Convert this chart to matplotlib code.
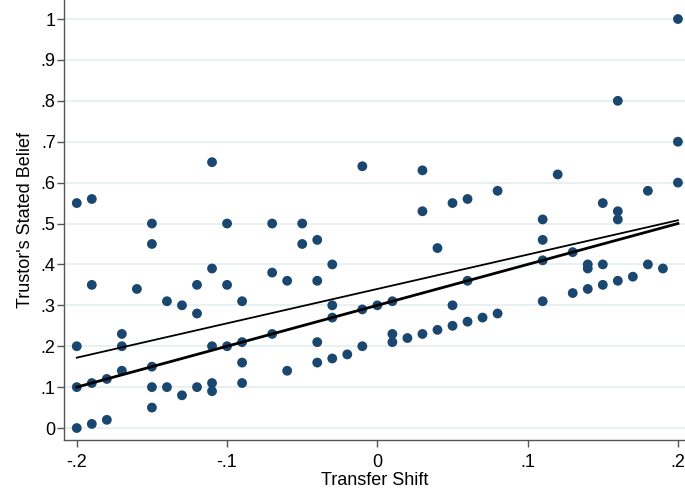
import numpy as np
import matplotlib
matplotlib.use("Agg")
import matplotlib.pyplot as plt

plt.rcParams['font.family'] = ['Liberation Sans', 'DejaVu Sans']

# Data: (transfer shift, list of stated beliefs)
shift_values = [-0.20, -0.19, -0.18, -0.17, -0.16, -0.15, -0.14, -0.13, -0.12, -0.11,
                -0.10, -0.09, -0.07, -0.06, -0.05, -0.04, -0.03, -0.02, -0.01, 0.00,
                0.01, 0.02, 0.03, 0.04, 0.05, 0.06, 0.07, 0.08, 0.11, 0.12,
                0.13, 0.14, 0.15, 0.16, 0.17, 0.18, 0.19, 0.20]
beliefs = [
    [0.55, 0.20, 0.10, 0.00],
    [0.56, 0.35, 0.11, 0.01],
    [0.12, 0.02],
    [0.23, 0.20, 0.14],
    [0.34],
    [0.50, 0.45, 0.15, 0.10, 0.05],
    [0.31, 0.10],
    [0.30, 0.08],
    [0.35, 0.28, 0.10],
    [0.65, 0.39, 0.20, 0.11, 0.09],
    [0.50, 0.35, 0.20],
    [0.31, 0.21, 0.16, 0.11],
    [0.50, 0.38, 0.23],
    [0.36, 0.14],
    [0.50, 0.45],
    [0.46, 0.36, 0.21, 0.16],
    [0.40, 0.30, 0.27, 0.17],
    [0.18],
    [0.64, 0.29, 0.20],
    [0.30],
    [0.31, 0.23, 0.21],
    [0.22],
    [0.63, 0.53, 0.23],
    [0.44, 0.24],
    [0.55, 0.30, 0.25],
    [0.56, 0.36, 0.26],
    [0.27],
    [0.58, 0.28],
    [0.51, 0.46, 0.41, 0.31],
    [0.62],
    [0.43, 0.33],
    [0.40, 0.39, 0.34],
    [0.55, 0.40, 0.35],
    [0.80, 0.53, 0.51, 0.36],
    [0.37],
    [0.58, 0.40],
    [0.39],
    [1.00, 0.70, 0.60],
]

# Fitted line (belief = intercept + slope * shift), as shown in the chart
fit_intercept = 0.340
fit_slope = 0.84
# Benchmark line
bench_intercept = 0.30
bench_slope = 1.0

xtick_vals = [-0.2, -0.1, 0.0, 0.1, 0.2]
xtick_labels = ["-.2", "-.1", "0", ".1", ".2"]
ytick_vals = [0.0, 0.1, 0.2, 0.3, 0.4, 0.5, 0.6, 0.7, 0.8, 0.9, 1.0]
ytick_labels = ["0", ".1", ".2", ".3", ".4", ".5", ".6", ".7", ".8", ".9", "1"]

x = np.concatenate([[s] * len(b) for s, b in zip(shift_values, beliefs)])
y = np.concatenate([b for b in beliefs])

fig = plt.figure(figsize=(6.85, 4.9), dpi=100)
ax = fig.add_axes([64 / 685, 50 / 490, 1 - 64 / 685, 440 / 490])

navy = "#1a476f"
for yv in ytick_vals:
    ax.axhline(yv, color="#e6eff1", lw=1.3, zorder=0)

ax.scatter(x, y, s=50, color=navy, edgecolors="none", zorder=3)

xl = np.array([-0.2, 0.2])
ax.plot(xl, fit_intercept + fit_slope * xl, color="black", lw=1.3, zorder=4)
ax.plot(xl, bench_intercept + bench_slope * xl, color="black", lw=2.0, zorder=4)

ax.set_xlim(-0.2085, 0.2047)
ax.set_ylim(-0.0293, 1.0465)
ax.set_xticks(xtick_vals)
ax.set_xticklabels(xtick_labels)
ax.set_yticks(ytick_vals)
ax.set_yticklabels(ytick_labels)
ax.tick_params(axis="both", labelsize=13, length=5, width=1, color="#555555", direction="out")
ax.tick_params(axis="y", pad=1)
ax.tick_params(axis="x", pad=5)

for side in ["top", "right"]:
    ax.spines[side].set_visible(False)
for side in ["left", "bottom"]:
    ax.spines[side].set_color("#555555")
    ax.spines[side].set_linewidth(1.0)

ax.set_xlabel("Transfer Shift", fontsize=13, labelpad=1)
ax.set_ylabel("Trustor's Stated Belief", fontsize=13, labelpad=5)

fig.savefig("out.png", dpi=100)
